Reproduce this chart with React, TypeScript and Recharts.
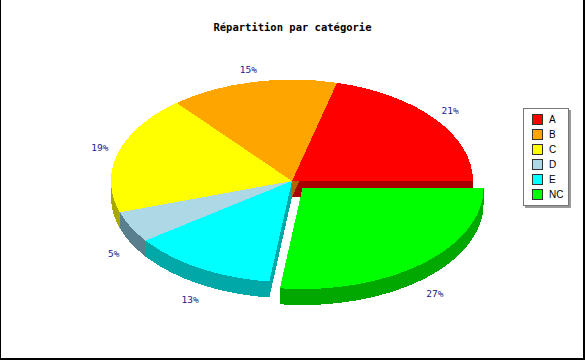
import { Cell, Legend, Pie, PieChart } from 'recharts'

const categories = ['A', 'B', 'C', 'D', 'E', 'NC']
const shares = [21, 15, 19, 5, 13, 27]
const topColors = ['#ff0000', '#ffa500', '#ffff00', '#add8e6', '#00ffff', '#00ff00']
const sideColors = ['#a80000', '#a86c00', '#a8a800', '#5a7f8c', '#00a8a8', '#00a800']
const explodeBy = [0, 0, 0, 0, 0, 16]

const data = categories.map((name, i) => ({ name, value: shares[i], explode: explodeBy[i] }))

const CX = 292
const CY = 181
const RADIUS = 181
const TILT = 0.56
const DEPTH = 16

const rad = (a: number) => (a * Math.PI) / 180

function point(cx: number, cy: number, rx: number, ry: number, a: number) {
  return [cx + rx * Math.cos(rad(a)), cy - ry * Math.sin(rad(a))]
}

function explodeOffset(p: any) {
  const e = p.explode ?? p.payload?.explode ?? 0
  const mid = (p.startAngle + p.endAngle) / 2
  return [e * Math.cos(rad(mid)), -e * TILT * Math.sin(rad(mid))]
}

function wedge(cx: number, cy: number, rx: number, ry: number, a1: number, a2: number) {
  const p1 = point(cx, cy, rx, ry, a1)
  const p2 = point(cx, cy, rx, ry, a2)
  const large = a2 - a1 > 180 ? 1 : 0
  return `M${cx},${cy} L${p1[0]},${p1[1]} A${rx},${ry} 0 ${large} 0 ${p2[0]},${p2[1]} Z`
}

// top face of a slice, squashed into an ellipse
function TopSlice(p: any) {
  const [ox, oy] = explodeOffset(p)
  const a1 = Math.min(p.startAngle, p.endAngle)
  const a2 = Math.max(p.startAngle, p.endAngle)
  const rx = p.outerRadius
  const ry = p.outerRadius * TILT
  return <path d={wedge(p.cx + ox, p.cy + oy, rx, ry, a1, a2)} fill={p.fill} shapeRendering="crispEdges" />
}

// extruded body: bottom face, cut faces and front rim
function SideSlice(p: any) {
  const [ox, oy] = explodeOffset(p)
  const cx = p.cx + ox
  const cy = p.cy + oy
  const a1 = Math.min(p.startAngle, p.endAngle)
  const a2 = Math.max(p.startAngle, p.endAngle)
  const rx = p.outerRadius
  const ry = p.outerRadius * TILT
  const paths = [wedge(cx, cy + DEPTH, rx, ry, a1, a2)]
  for (const a of [a1, a2]) {
    const e = point(cx, cy, rx, ry, a)
    paths.push(`M${cx},${cy} L${e[0]},${e[1]} L${e[0]},${e[1] + DEPTH} L${cx},${cy + DEPTH} Z`)
  }
  const b1 = Math.max(a1, 180)
  const b2 = Math.min(a2, 360)
  if (b2 > b1) {
    const t1 = point(cx, cy, rx, ry, b1)
    const t2 = point(cx, cy, rx, ry, b2)
    const large = b2 - b1 > 180 ? 1 : 0
    paths.push(
      `M${t1[0]},${t1[1]} A${rx},${ry} 0 ${large} 0 ${t2[0]},${t2[1]} L${t2[0]},${t2[1] + DEPTH} A${rx},${ry} 0 ${large} 1 ${t1[0]},${t1[1] + DEPTH} Z`
    )
  }
  return (
    <g fill={p.fill} shapeRendering="crispEdges">
      {paths.map((d, i) => (
        <path key={i} d={d} />
      ))}
    </g>
  )
}

function renderLabel(p: any) {
  const e = p.explode ?? p.payload?.explode ?? 0
  const mid = p.midAngle
  const s = Math.sin(rad(mid))
  const c = Math.cos(rad(mid))
  const r = p.outerRadius + 19
  const x = p.cx + (r + e) * c
  const y = p.cy - (r + e) * TILT * s + (s < 0 ? DEPTH + 6 : -2)
  return (
    <text
      x={x}
      y={y}
      textAnchor="middle"
      dominantBaseline="central"
      fontFamily="DejaVu Sans Mono"
      fontSize={9.5}
      fill="#1a1a8c"
    >
      {p.value}%
    </text>
  )
}

function LegendBox(props: any) {
  const items = (props.payload ?? []).filter((it: any) => it.type !== 'none')
  return (
    <div
      style={{
        width: 44,
        padding: '3px 0',
        background: '#fff',
        border: '1px solid #777',
        boxShadow: '2px 2px 0 #999',
        fontFamily: 'Liberation Sans',
        fontSize: 10,
      }}
    >
      {items.map((it: any) => (
        <div key={it.value} style={{ display: 'flex', alignItems: 'center', height: 15, paddingLeft: 8 }}>
          <span
            style={{
              width: 9,
              height: 9,
              background: it.color,
              border: '1px solid #333',
              marginRight: 6,
            }}
          />
          <span>{it.value}</span>
        </div>
      ))}
    </div>
  )
}

export default function App() {
  return (
    <div style={{ position: 'fixed', left: 0, top: 0, width: 585, height: 360, background: '#fff' }}>
      <PieChart width={585} height={360} margin={{ top: 0, right: 0, bottom: 0, left: 0 }}>
        <Pie
          data={data}
          dataKey="value"
          nameKey="name"
          cx={CX}
          cy={CY}
          outerRadius={RADIUS}
          startAngle={0}
          endAngle={360}
          shape={SideSlice}
          legendType="none"
          isAnimationActive={false}
        >
          {data.map((d, i) => (
            <Cell key={d.name} fill={sideColors[i]} />
          ))}
        </Pie>
        <Pie
          data={data}
          dataKey="value"
          nameKey="name"
          cx={CX}
          cy={CY}
          outerRadius={RADIUS}
          startAngle={0}
          endAngle={360}
          shape={TopSlice}
          label={renderLabel}
          labelLine={false}
          legendType="square"
          isAnimationActive={false}
        >
          {data.map((d, i) => (
            <Cell key={d.name} fill={topColors[i]} />
          ))}
        </Pie>
        <Legend
          layout="vertical"
          align="right"
          verticalAlign="top"
          content={LegendBox}
          wrapperStyle={{ position: 'absolute', left: 523, top: 108, right: 'auto', width: 46 }}
        />
      </PieChart>
      <div
        style={{
          position: 'absolute',
          left: 0,
          top: 20,
          width: 585,
          textAlign: 'center',
          fontFamily: 'DejaVu Sans Mono',
          fontWeight: 'bold',
          fontSize: 10.5,
          lineHeight: '14px',
        }}
      >
        Répartition par catégorie
      </div>
      <div
        style={{
          position: 'absolute',
          inset: 0,
          borderLeft: '1px solid #000',
          borderRight: '2px solid #000',
          borderBottom: '2px solid #000',
          pointerEvents: 'none',
        }}
      />
    </div>
  )
}
